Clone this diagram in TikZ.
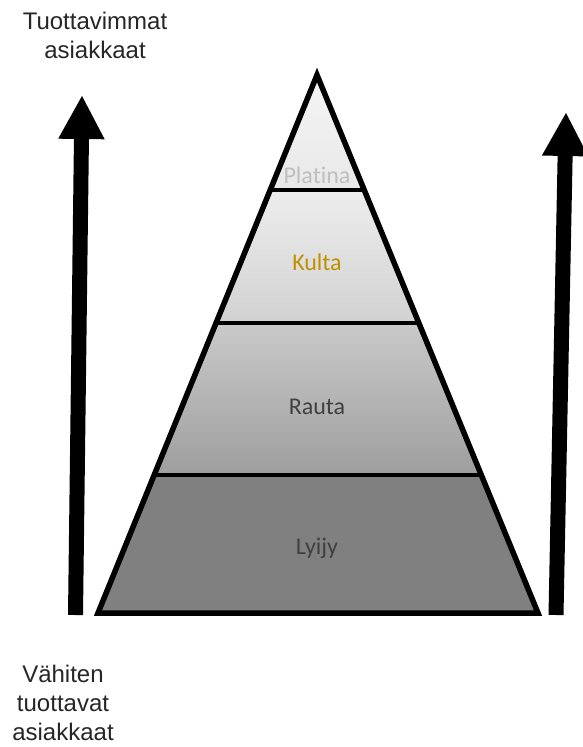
\documentclass[tikz,border=0pt]{standalone}
\usepackage{fontspec}
\setmainfont{Liberation Sans}
\newfontfamily\pyrfont[Ligatures=NoCommon]{Carlito}
\usetikzlibrary{arrows.meta,calc}
\definecolor{platgray}{HTML}{BFBFBF}
\definecolor{goldtxt}{HTML}{BF9000}
\definecolor{darktxt}{HTML}{404040}
\tikzset{
  sidelabel/.style={font=\fontsize{24}{29}\selectfont, text=black!85, align=center, inner sep=0pt},
  pyrlabel/.style={font=\pyrfont\fontsize{24}{28}\selectfont, inner sep=0pt},
  bigarrow/.style={line width=15pt, -{Triangle[width=43pt,length=44pt]}},
  outline/.style={line width=5.5pt, line join=miter, draw=black},
  divider/.style={line width=4pt, draw=black}
}
\begin{document}
\begin{tikzpicture}[x=1pt,y=-1pt]
\useasboundingbox[fill=white] (0,0) rectangle (583,747);
% pyramid corners
\coordinate (apex) at (317,75);
\coordinate (bl) at (98,613);
\coordinate (br) at (538,613);
% divider end points
\coordinate (l1) at ($(apex)!0.2138!(bl)$);
\coordinate (r1) at ($(apex)!0.2138!(br)$);
\coordinate (l2) at ($(apex)!0.4610!(bl)$);
\coordinate (r2) at ($(apex)!0.4610!(br)$);
\coordinate (l3) at ($(apex)!0.7435!(bl)$);
\coordinate (r3) at ($(apex)!0.7435!(br)$);
% band fills
\fill[top color=black!4, bottom color=black!9] (apex) -- (r1) -- (l1) -- cycle;
\fill[top color=black!7, bottom color=black!18] (l1) -- (r1) -- (r2) -- (l2) -- cycle;
\fill[top color=black!21, bottom color=black!38] (l2) -- (r2) -- (r3) -- (l3) -- cycle;
\fill[black!50] (l3) -- (r3) -- (br) -- (bl) -- cycle;
% dividers
\draw[divider] (l1) -- (r1);
\draw[divider] (l2) -- (r2);
\draw[divider] (l3) -- (r3);
% outline
\draw[outline] (apex) -- (br) -- (bl) -- cycle;
% labels in pyramid
\node[pyrlabel, text=platgray] (platina) at (317,175) {Platina};
\node[pyrlabel, text=goldtxt] (kulta) at (317,262) {Kulta};
\node[pyrlabel, text=darktxt] (rauta) at (317,407) {Rauta};
\node[pyrlabel, text=darktxt] (lyijy) at (317,548) {Lyijy};
% side arrows
\coordinate (la0) at (75.5,615);
\coordinate (la1) at (82,95);
\coordinate (ra0) at (556,615);
\coordinate (ra1) at (566,112);
\draw[bigarrow] (la0) -- (la1);
\draw[bigarrow] (ra0) -- (ra1);
% side labels
\node[sidelabel] (top) at (95,35) {Tuottavimmat\\asiakkaat};
\node[sidelabel] (bottom) at (63,703) {Vähiten\\tuottavat\\asiakkaat};
\end{tikzpicture}
\end{document}
